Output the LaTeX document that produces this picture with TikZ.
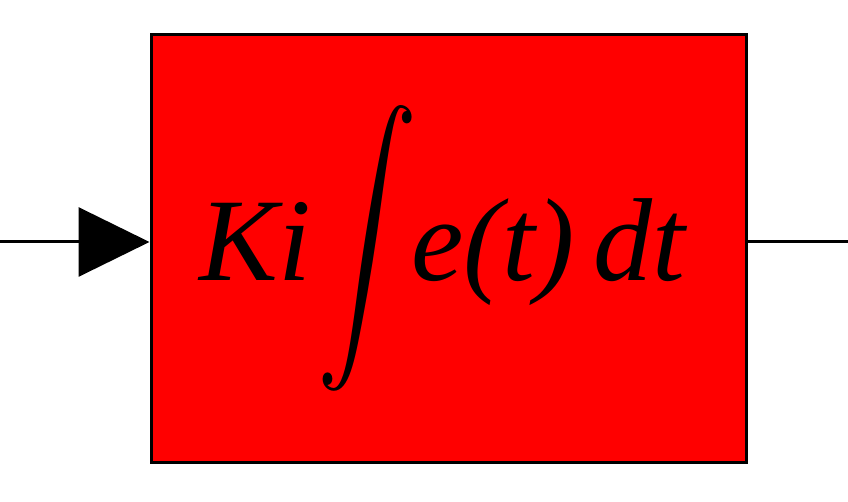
\documentclass[tikz,border=0pt]{standalone}
\usepackage{amsmath,amssymb}
\usepackage{fontspec}
\setmainfont{Liberation Serif}
\usepackage{tikz}
\usetikzlibrary{arrows.meta,positioning,calc}

\begin{document}
\begin{tikzpicture}[x=1pt,y=1pt]
    \useasboundingbox (0,0) rectangle (848,502);
    % Integral block
    \node[draw=black, line width=3pt, fill=red, minimum width=595pt, minimum height=428pt,
          inner sep=0pt] (block) at (448.5,253) {};
    \node[scale=11.8, inner sep=0pt, anchor=base west] (ki) at (197,221)
        {\itshape Ki\hspace{0.6pt}\scalebox{0.85}[1.09]{$\displaystyle\int$}\hspace{-0.6pt}e(t)\hspace{1.6pt}dt};
    % Input and output
    \coordinate (in) at (0,260);
    \coordinate (out) at (848,260);
    \draw[line width=3pt, -{Triangle[length=71pt,width=69pt]}] (in) -- (in -| block.west);
    \draw[line width=3pt] (out -| block.east) -- (out);
\end{tikzpicture}
\end{document}
